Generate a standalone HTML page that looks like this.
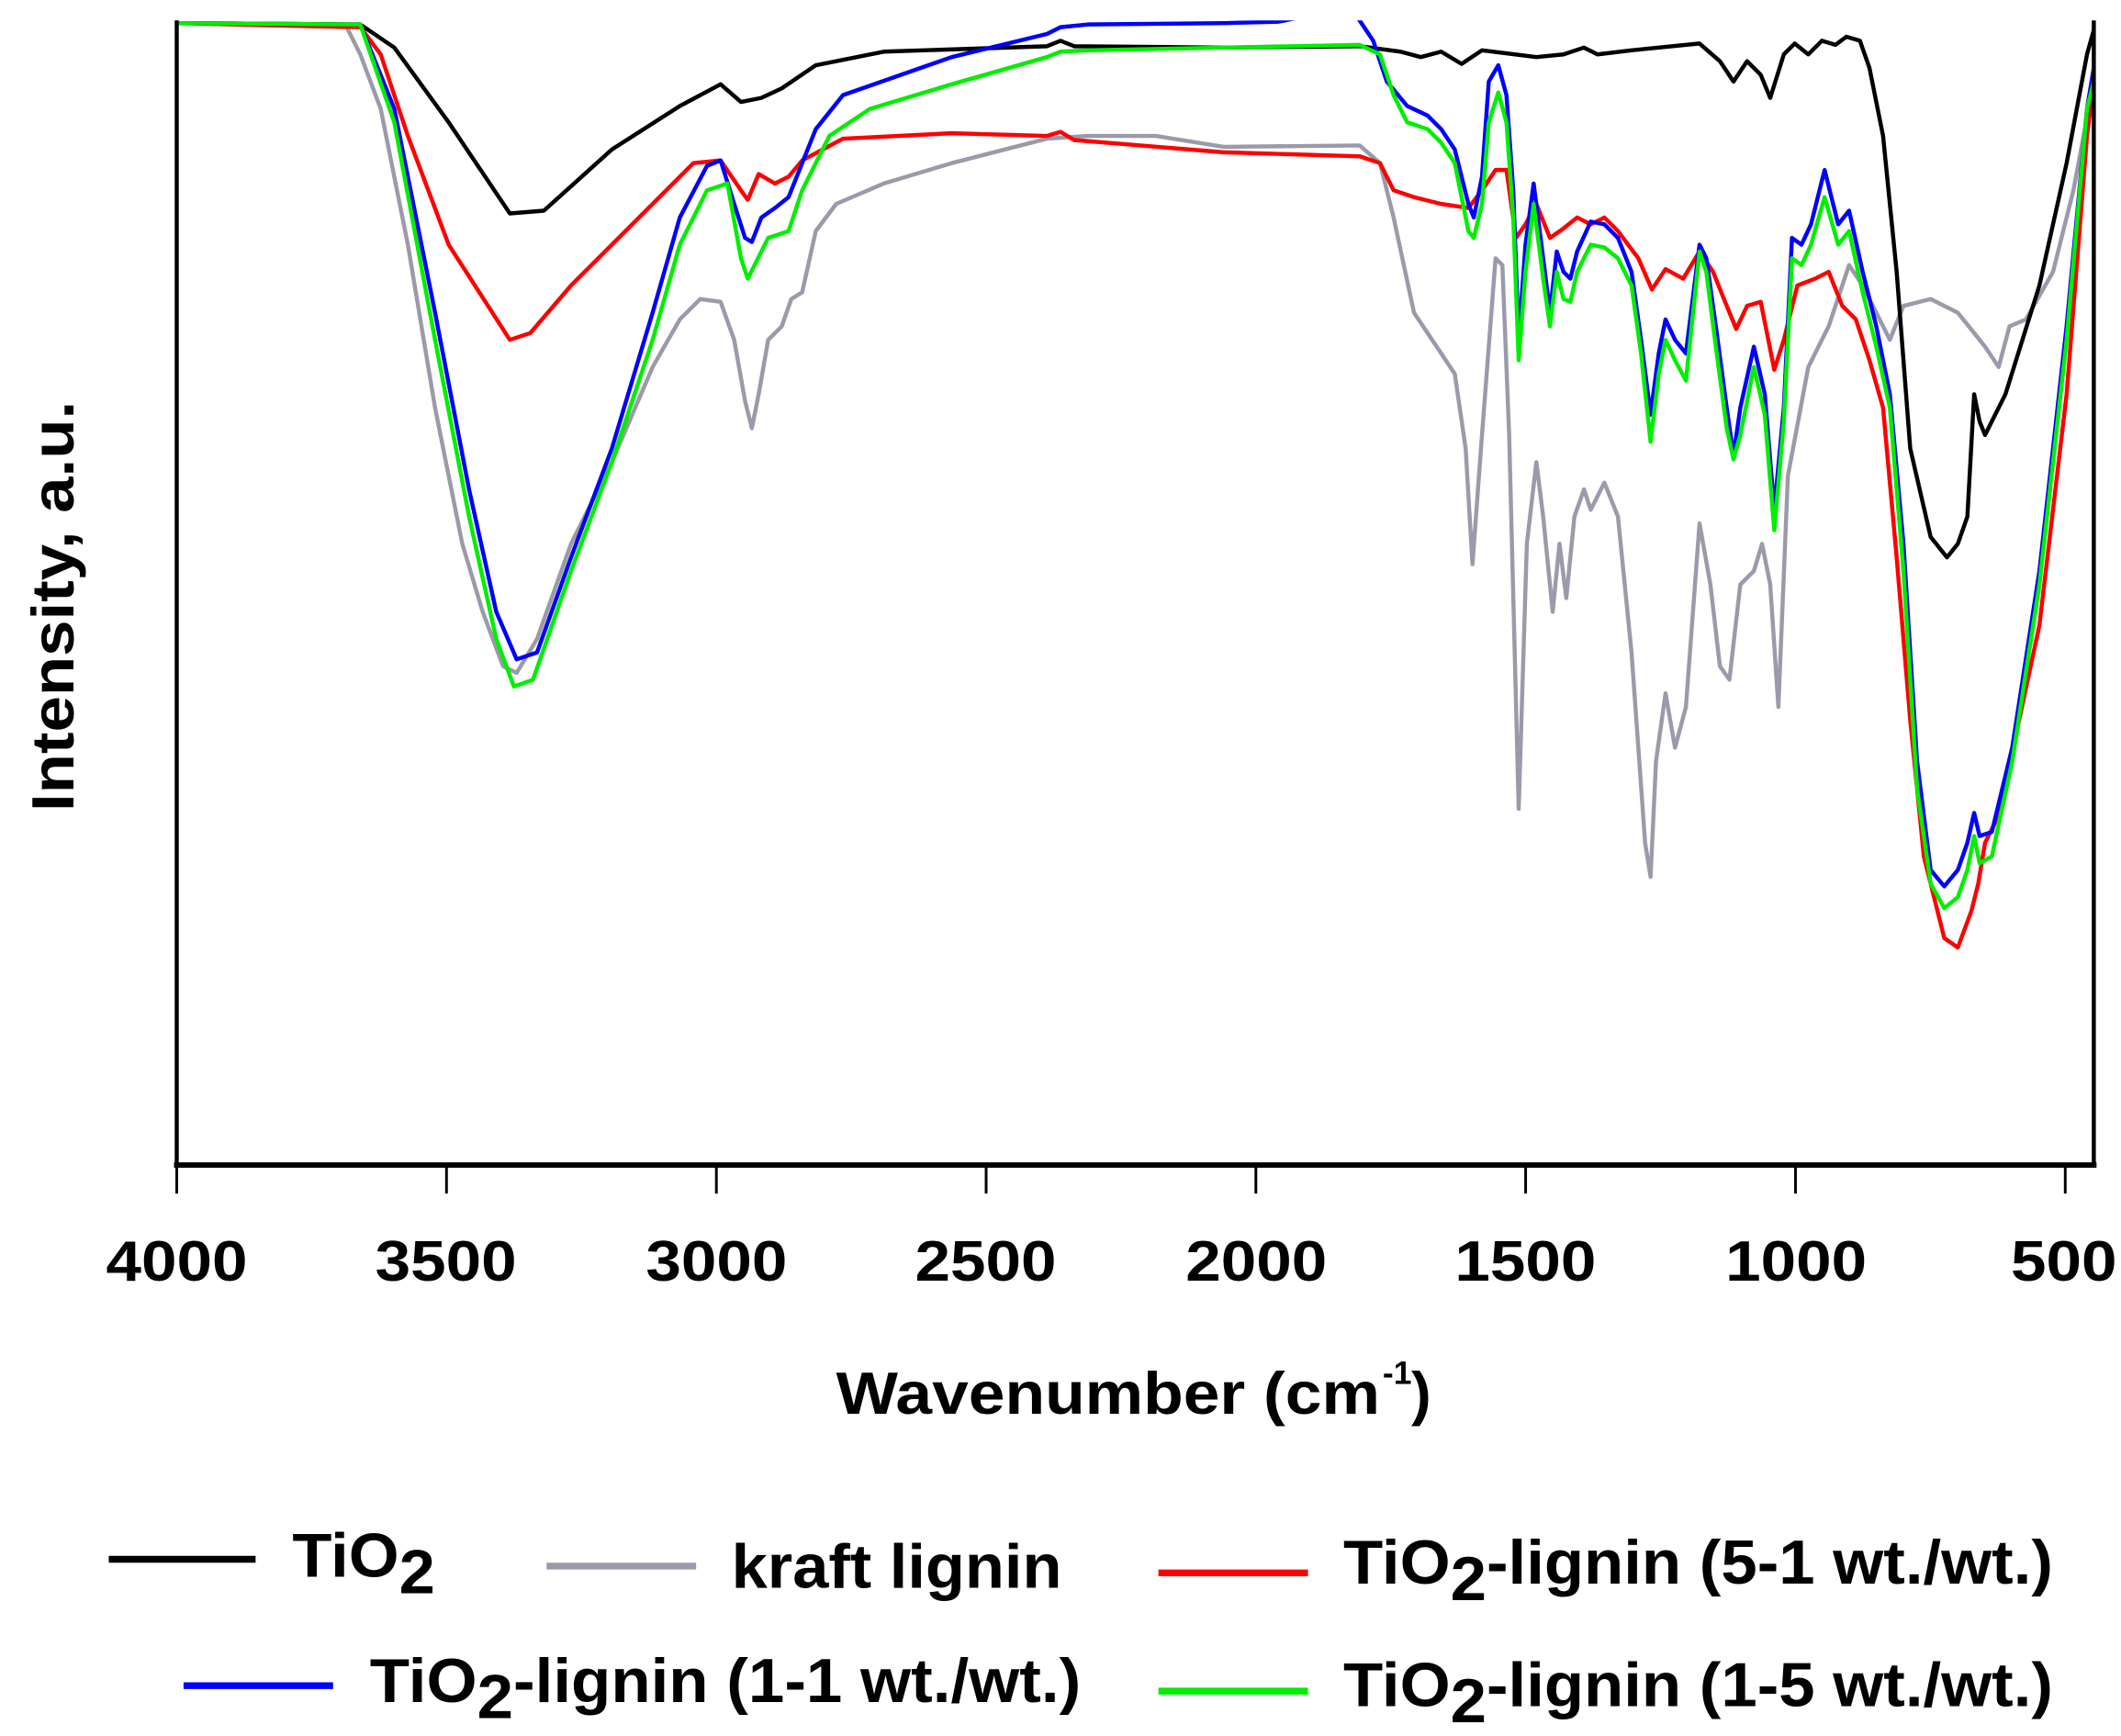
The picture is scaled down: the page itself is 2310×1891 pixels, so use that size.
<!DOCTYPE html>
<html><head><style>
html,body{margin:0;padding:0;background:#fff;}
svg{display:block;}
text{font-family:"Liberation Sans",Arial,sans-serif;font-weight:bold;fill:#000;}
</style></head><body>
<svg width="2310" height="1891" viewBox="0 0 1560 1277" preserveAspectRatio="none" xmlns="http://www.w3.org/2000/svg">
<rect width="1560" height="1277" fill="#fff"/>
<defs><clipPath id="c"><rect x="130" y="15" width="1410" height="842"/></clipPath></defs>
<g clip-path="url(#c)" fill="none" stroke-width="3" stroke-linejoin="round">
<polyline stroke="#9a9aaa" points="130,17 255,20 265,40 280,80 300,180 320,300 340,400 355,450 370,490 380,495 395,470 420,400 450,340 480,270 500,235 515,220 530,222 540,250 548,295 553,315 558,290 565,250 575,240 582,220 590,215 600,170 615,150 650,135 700,120 770,102 800,100 850,100 900,108 1000,107 1015,120 1025,160 1040,230 1060,260 1070,275 1078,330 1083,415 1090,320 1100,190 1105,195 1110,320 1117,595 1123,400 1130,340 1135,380 1142,450 1147,400 1152,440 1158,380 1165,360 1170,375 1180,355 1190,380 1200,480 1210,620 1214,645 1218,560 1225,510 1232,550 1240,520 1250,385 1258,430 1265,490 1272,500 1280,430 1290,420 1296,400 1302,430 1308,520 1315,350 1330,270 1345,240 1360,195 1370,210 1380,230 1390,250 1400,225 1420,220 1440,230 1460,255 1470,270 1478,240 1490,235 1510,200 1525,140 1540,60"/>
<polyline stroke="#000" points="130,17 265,18 290,35 330,90 375,157 400,155 450,110 500,78 530,62 545,75 560,72 575,65 600,48 650,38 770,34 780,30 790,34 900,35 1000,34 1030,38 1045,42 1060,38 1075,47 1090,37 1130,42 1150,40 1165,35 1175,40 1200,37 1250,32 1265,45 1275,60 1285,45 1295,55 1302,72 1312,40 1320,32 1330,40 1340,30 1350,33 1358,27 1368,30 1375,50 1385,100 1395,200 1405,330 1420,395 1432,410 1440,400 1447,380 1452,290 1456,310 1460,320 1465,310 1475,290 1500,210 1520,120 1535,40 1540,22"/>
<polyline stroke="#ff0000" points="130,17 265,20 280,40 300,100 330,180 375,250 390,245 420,210 470,160 510,120 530,118 545,140 550,147 558,128 570,135 580,130 590,118 620,102 700,98 770,100 780,97 790,103 900,112 1000,115 1015,120 1025,140 1040,145 1060,150 1080,153 1090,140 1100,125 1108,125 1115,175 1122,165 1130,150 1140,175 1150,168 1160,160 1170,165 1180,160 1190,170 1205,190 1215,213 1225,198 1238,205 1250,185 1260,200 1268,220 1277,242 1285,225 1295,222 1305,272 1312,250 1322,210 1335,205 1345,200 1355,225 1365,235 1375,265 1385,300 1395,410 1405,530 1415,630 1430,690 1440,697 1450,670 1455,650 1460,620 1470,600 1500,460 1520,290 1535,100 1540,60"/>
<polyline stroke="#0000ff" points="130,17 265,18 290,80 320,230 345,360 365,450 380,485 395,480 420,410 450,330 480,230 500,160 520,122 530,118 540,150 548,175 553,178 560,160 570,153 580,145 590,120 600,95 620,70 700,42 770,25 780,20 800,18 900,17 940,16 970,10 995,10 1000,15 1010,30 1020,60 1035,78 1050,85 1060,95 1070,110 1080,150 1084,160 1090,130 1095,60 1102,48 1108,70 1113,140 1117,250 1122,180 1128,135 1135,190 1140,230 1145,185 1150,200 1155,205 1160,185 1170,163 1180,165 1190,175 1200,200 1207,250 1214,305 1220,260 1225,235 1232,250 1240,260 1250,180 1255,190 1262,240 1270,300 1275,335 1280,300 1290,255 1298,290 1305,375 1312,300 1318,175 1325,180 1332,165 1342,125 1352,165 1360,155 1370,200 1380,240 1390,290 1400,400 1410,560 1420,640 1430,652 1440,640 1447,620 1452,598 1456,615 1465,612 1480,550 1500,420 1520,240 1535,80 1540,50"/>
<polyline stroke="#00ee00" points="130,17 265,18 290,90 320,250 345,380 365,470 378,505 392,500 420,420 450,340 480,250 500,180 520,140 535,135 545,190 550,205 555,195 565,175 580,170 590,140 610,100 640,80 700,62 770,42 780,38 800,37 900,35 1000,33 1015,40 1025,70 1035,90 1050,95 1060,105 1070,120 1080,170 1084,175 1090,150 1095,90 1102,68 1108,90 1113,160 1117,265 1122,200 1128,150 1135,205 1140,240 1145,200 1150,220 1155,222 1160,200 1170,180 1180,182 1190,190 1200,210 1207,260 1214,325 1220,275 1225,250 1232,265 1240,280 1250,185 1255,200 1262,255 1270,315 1275,338 1280,320 1290,270 1298,305 1305,390 1312,310 1318,190 1325,195 1332,180 1342,145 1352,180 1360,170 1370,215 1380,255 1390,300 1400,420 1410,580 1420,650 1430,668 1440,660 1447,640 1452,615 1456,635 1465,630 1480,560 1500,430 1520,250 1535,80 1540,60"/>
</g>
<g stroke="#000" fill="none">
<line x1="130" y1="15" x2="130" y2="858" stroke-width="3"/>
<line x1="1540" y1="15" x2="1540" y2="858" stroke-width="3"/>
<line x1="128" y1="857" x2="1542" y2="857" stroke-width="4"/>
<g stroke-width="2">
<line x1="130" y1="857" x2="130" y2="878"/><line x1="328.4" y1="857" x2="328.4" y2="878"/>
<line x1="526.9" y1="857" x2="526.9" y2="878"/><line x1="725.3" y1="857" x2="725.3" y2="878"/>
<line x1="923.7" y1="857" x2="923.7" y2="878"/><line x1="1122.1" y1="857" x2="1122.1" y2="878"/>
<line x1="1320.6" y1="857" x2="1320.6" y2="878"/><line x1="1519" y1="857" x2="1519" y2="878"/>
</g></g>
<g font-size="42" text-anchor="middle">
<text x="130" y="942" textLength="104" lengthAdjust="spacingAndGlyphs">4000</text>
<text x="328" y="942" textLength="104" lengthAdjust="spacingAndGlyphs">3500</text>
<text x="527" y="942" textLength="104" lengthAdjust="spacingAndGlyphs">3000</text>
<text x="725" y="942" textLength="104" lengthAdjust="spacingAndGlyphs">2500</text>
<text x="924" y="942" textLength="104" lengthAdjust="spacingAndGlyphs">2000</text>
<text x="1122" y="942" textLength="104" lengthAdjust="spacingAndGlyphs">1500</text>
<text x="1321" y="942" textLength="104" lengthAdjust="spacingAndGlyphs">1000</text>
<text x="1518" y="942" textLength="78" lengthAdjust="spacingAndGlyphs">500</text>
</g>
<text x="615" y="1040" font-size="44" textLength="400" lengthAdjust="spacingAndGlyphs">Wavenumber (cm</text>
<text x="1017" y="1018" font-size="24">-1</text>
<text x="1038" y="1040" font-size="44">)</text>
<text transform="translate(54,446) rotate(-90)" font-size="44" text-anchor="middle" textLength="302" lengthAdjust="spacingAndGlyphs">Intensity, a.u.</text>
<g stroke-width="5">
<line x1="80" y1="1147" x2="188" y2="1147" stroke="#000"/>
<line x1="402" y1="1152" x2="512" y2="1152" stroke="#9a9aaa"/>
<line x1="852" y1="1157" x2="962" y2="1157" stroke="#ff0000"/>
<line x1="135" y1="1240" x2="245" y2="1240" stroke="#0000ff"/>
<line x1="852" y1="1244" x2="962" y2="1244" stroke="#00ee00"/>
</g>
<g font-size="46">
<text x="215" y="1160" textLength="105" lengthAdjust="spacingAndGlyphs">TiO<tspan dy="12">2</tspan></text>
<text x="538" y="1168" textLength="243" lengthAdjust="spacingAndGlyphs">kraft lignin</text>
<text x="988" y="1165" textLength="522" lengthAdjust="spacingAndGlyphs">TiO<tspan dy="12">2</tspan><tspan dy="-12">-lignin (5-1 wt./wt.)</tspan></text>
<text x="272" y="1252" textLength="523" lengthAdjust="spacingAndGlyphs">TiO<tspan dy="12">2</tspan><tspan dy="-12">-lignin (1-1 wt./wt.)</tspan></text>
<text x="988" y="1255" textLength="522" lengthAdjust="spacingAndGlyphs">TiO<tspan dy="12">2</tspan><tspan dy="-12">-lignin (1-5 wt./wt.)</tspan></text>
</g>
</svg>
</body></html>
